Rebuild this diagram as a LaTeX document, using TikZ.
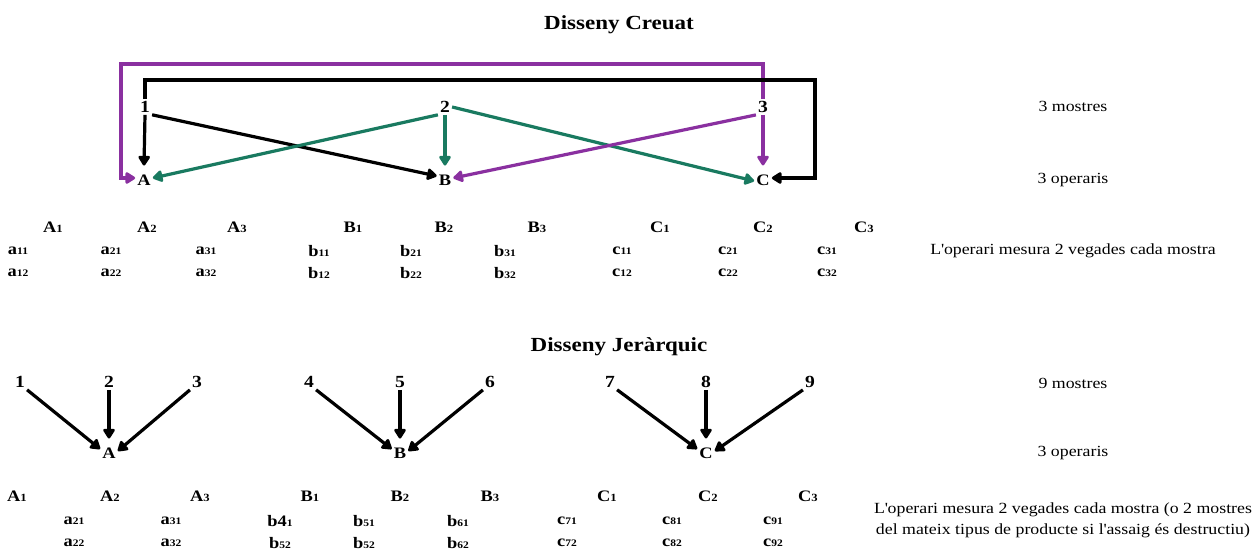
\documentclass[tikz,border=0pt]{standalone}
\usepackage{fontspec}
\setmainfont{Liberation Serif}[FakeStretch=1.15]
\usetikzlibrary{arrows.meta}
\definecolor{tealc}{RGB}{25,122,96}
\definecolor{purp}{RGB}{138,48,160}
\newcommand\ssub[2]{#1{\fontsize{10}{10}\selectfont #2}}
\newcommand\csub[2]{#1{\fontsize{11}{11}\selectfont #2}}
\newcommand\apos{\textquotesingle}
\begin{document}
\begin{tikzpicture}[x=1pt,y=-1pt,
 every node/.style={inner sep=2pt},
 num/.style={font=\bfseries\fontsize{17}{17}\selectfont},
 op/.style={font=\bfseries\fontsize{16}{16}\selectfont},
 capl/.style={font=\bfseries\fontsize{16}{16}\selectfont},
 sm/.style={font=\bfseries\fontsize{16}{16}\selectfont},
 info/.style={font=\fontsize{15.5}{21}\selectfont, align=center},
 ttl/.style={font=\bfseries\fontsize{20}{20}\selectfont},
 con/.style={line width=3.2pt, -{Triangle[round,length=11pt,width=13pt]}},
]
\useasboundingbox[fill=white] (0,0) rectangle (1259,551);

% ---------- Disseny Creuat ----------
\node[ttl] (t1) at (619,25) {Disseny Creuat};
\node[num] (s1) at (145,107) {1};
\node[num] (s2) at (445,107) {2};
\node[num] (s3) at (763,107) {3};
\node[op] (oA) at (144,180) {A};
\node[op] (oB) at (445,180) {B};
\node[op] (oC) at (763,180) {C};
\coordinate (blk) at (815,80);
\coordinate (pl) at (121,64);

\draw[con,purp] (s3.north) |- (pl) |- ([yshift=2pt]oA.west);
\draw[con,black] (s1.north) |- (blk) |- ([yshift=2pt]oC.east);
\draw[con,black] (s1.south) -- ([yshift=7pt]oA.north);
\draw[con,black] (s1.south east) -- ([yshift=4pt]oB.west);
\draw[con,tealc] (s2.south west) -- ([yshift=2pt]oA.east);
\draw[con,tealc] (s2.south) -- ([yshift=7pt]oB.north);
\draw[con,tealc] (s2.east) -- ([yshift=-1pt]oC.west);
\draw[con,purp] (s3.south west) -- ([yshift=2pt]oB.east);
\draw[con,purp] (s3.south) -- ([yshift=7pt]oC.north);

\node[info] (i1) at (1073,106) {3 mostres};
\node[info] (i2) at (1073,180) {3 operaris};
\node[info] (i3) at (1073,251) {L\apos operari mesura 2 vegades cada mostra};

\foreach \x/\l/\d [count=\i] in {53/A/1,147/A/2,237/A/3,353/B/1,444/B/2,537/B/3,660/C/1,763/C/2,864/C/3}
  \node[capl] (uc\i) at (\x,227) {\csub{\l}{\d}};
\foreach \x/\l/\d [count=\i] in {18/a/11,111/a/21,206/a/31,319/b/11,411/b/21,505/b/31,622/c/11,728/c/21,827/c/31}
  \node[sm] (ur\i) at (\x,251) {\ssub{\l}{\d}};
\foreach \x/\l/\d [count=\i] in {18/a/12,111/a/22,206/a/32,319/b/12,411/b/22,505/b/32,622/c/12,728/c/22,827/c/32}
  \node[sm] (us\i) at (\x,273) {\ssub{\l}{\d}};

% ---------- Disseny Jerarquic ----------
\node[ttl] (t2) at (619,347) {Disseny Jeràrquic};
\foreach \x [count=\i] in {20,109,197,309,400,490,610,706,810}
  \node[num] (m\i) at (\x,382) {\i};
\node[op] (bA) at (109,453) {A};
\node[op] (bB) at (400,453) {B};
\node[op] (bC) at (706,453) {C};

\foreach \a/\b in {1/bA,4/bB,7/bC}
  \draw[con] (m\a.south east) -- ([yshift=4pt]\b.west);
\foreach \a/\b in {3/bA,6/bB,9/bC}
  \draw[con] (m\a.south west) -- ([yshift=2pt]\b.east);
\foreach \a/\b in {2/bA,5/bB,8/bC}
  \draw[con] (m\a.south) -- ([yshift=7pt]\b.north);

\node[info] (j1) at (1073,383) {9 mostres};
\node[info] (j2) at (1073,453) {3 operaris};
\node[info] (j3) at (1063,520) {L\apos operari mesura 2 vegades cada mostra (o 2 mostres\\del mateix tipus de producte si l\apos assaig és destructiu)};

\foreach \x/\l/\d [count=\i] in {17/A/1,110/A/2,200/A/3,310/B/1,400/B/2,490/B/3,607/C/1,708/C/2,808/C/3}
  \node[capl] (lc\i) at (\x,496) {\csub{\l}{\d}};
\foreach \x/\l/\d [count=\i] in {74/a/21,171/a/31,280/b4/1,364/b/51,458/b/61,567/c/71,672/c/81,773/c/91}
  \node[sm] (lr\i) at (\x,521) {\ssub{\l}{\d}};
\foreach \x/\l/\d [count=\i] in {74/a/22,171/a/32,280/b/52,364/b/52,458/b/62,567/c/72,672/c/82,773/c/92}
  \node[sm] (ls\i) at (\x,543) {\ssub{\l}{\d}};
\end{tikzpicture}
\end{document}
